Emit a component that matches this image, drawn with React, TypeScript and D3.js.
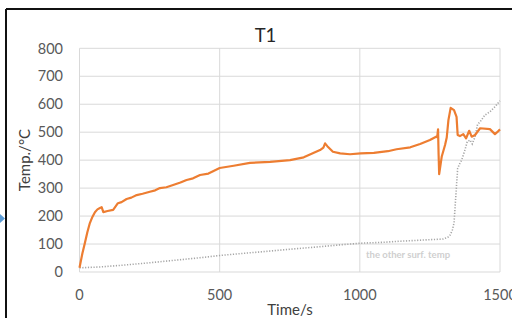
import React from "react";
import * as d3 from "d3";

const W = 512;
const H = 318;

const xTicks = [0, 500, 1000, 1500];
const yTicks = [0, 100, 200, 300, 400, 500, 600, 700, 800];

const t1Time = [0, 10, 19, 28, 37, 46, 55, 64, 73, 79, 85, 100, 120, 137, 150, 168, 185, 204, 225, 251, 270, 287, 310, 334, 360, 382, 405, 430, 460, 500, 550, 608, 680, 751, 800, 858, 870, 876, 884, 904, 930, 965, 1003, 1050, 1100, 1131, 1180, 1215, 1250, 1272, 1276, 1279, 1281, 1283, 1292, 1304, 1310, 1316, 1324, 1336, 1345, 1349, 1357, 1369, 1379, 1390, 1399, 1411, 1429, 1464, 1482, 1490, 1500];
const t1Temp = [15, 65, 103, 142, 175, 197, 214, 224, 229, 232, 214, 218, 222, 246, 250, 261, 266, 275, 280, 287, 292, 300, 303, 311, 320, 329, 335, 347, 352, 372, 380, 390, 394, 400, 410, 436, 445, 460, 450, 430, 424, 421, 424, 426, 432, 439, 446, 458, 472, 484, 482, 510, 420, 350, 412, 454, 481, 543, 587, 579, 555, 490, 486, 493, 478, 505, 484, 490, 514, 511, 493, 500, 510];

const otherTime = [0, 73, 150, 250, 350, 430, 500, 600, 726, 850, 929, 1003, 1080, 1143, 1220, 1298, 1315, 1322, 1330, 1336, 1343, 1349, 1355, 1363, 1375, 1383, 1393, 1401, 1411, 1420, 1429, 1446, 1464, 1482, 1497, 1500];
const otherTemp = [15, 18, 24, 33, 43, 51, 59, 68, 79, 90, 97, 103, 106, 110, 114, 118, 125, 132, 150, 175, 281, 370, 385, 400, 436, 466, 472, 458, 484, 528, 537, 561, 573, 591, 609, 612];

const titleText = "T1";
const xTitle = "Time/s";
const yTitle = "Temp./°C";
const noteText = "the other surf. temp";

export default function App() {
  const x = d3.scaleLinear().domain([0, 1500]).range([79.5, 500]);
  const y = d3.scaleLinear().domain([0, 800]).range([272, 48.3]);
  const line = d3
    .line<[number, number]>()
    .x((d) => x(d[0]))
    .y((d) => y(d[1]));
  const t1Data = t1Time.map((t, i) => [t, t1Temp[i]] as [number, number]);
  const otherData = otherTime.map((t, i) => [t, otherTemp[i]] as [number, number]);
  const font = "Lato, 'Open Sans', sans-serif";

  return (
    <svg
      width={W}
      height={H}
      style={{ position: "absolute", left: 0, top: 0, background: "#fff" }}
      fontFamily={font}
    >
      <rect x={0} y={0} width={W} height={H} fill="#fff" />
      {/* frame */}
      <line x1={6} y1={9} x2={W} y2={9} stroke="#111" strokeWidth={2} />
      <line x1={6} y1={9} x2={6} y2={H} stroke="#111" strokeWidth={2} />
      <path d="M0,214 L5,218.5 L0,223 Z" fill="#5b9bd5" />

      {/* gridlines */}
      {yTicks.map((v) => (
        <line key={"gy" + v} x1={x(0)} x2={x(1500)} y1={y(v)} y2={y(v)} stroke="#d9d9d9" strokeWidth={1} />
      ))}
      {xTicks.map((v) => (
        <line key={"gx" + v} x1={x(v)} x2={x(v)} y1={y(0)} y2={y(800)} stroke="#d9d9d9" strokeWidth={1} />
      ))}

      {/* tick labels */}
      {yTicks.map((v) => (
        <text key={"ty" + v} x={63} y={y(v)} dy="0.36em" textAnchor="end" fontSize={14.5} fill="#595959">
          {v}
        </text>
      ))}
      {xTicks.map((v) => (
        <text key={"tx" + v} x={x(v)} y={295} dy="0.36em" textAnchor="middle" fontSize={14.5} fill="#595959">
          {v}
        </text>
      ))}

      {/* series */}
      <path
        d={line(otherData) || ""}
        fill="none"
        stroke="#a6a6a6"
        strokeWidth={1.6}
        strokeDasharray="1.2 1.6"
      />
      <path
        d={line(t1Data) || ""}
        fill="none"
        stroke="#ed7d31"
        strokeWidth={2.2}
        strokeLinejoin="round"
      />

      <text x={366} y={254.5} dy="0.35em" fontSize={9.5} fontWeight={700} fill="#cfcfcf">
        {noteText}
      </text>

      {/* titles */}
      <text x={265.5} y={41.5} textAnchor="middle" fontSize={18.5} fill="#262626">
        {titleText}
      </text>
      <text x={290} y={314.5} textAnchor="middle" fontSize={15} fill="#404040">
        {xTitle}
      </text>
      <text
        transform={`translate(29.5,160) rotate(-90)`}
        textAnchor="middle"
        fontSize={15}
        fill="#404040"
      >
        {yTitle}
      </text>
    </svg>
  );
}
